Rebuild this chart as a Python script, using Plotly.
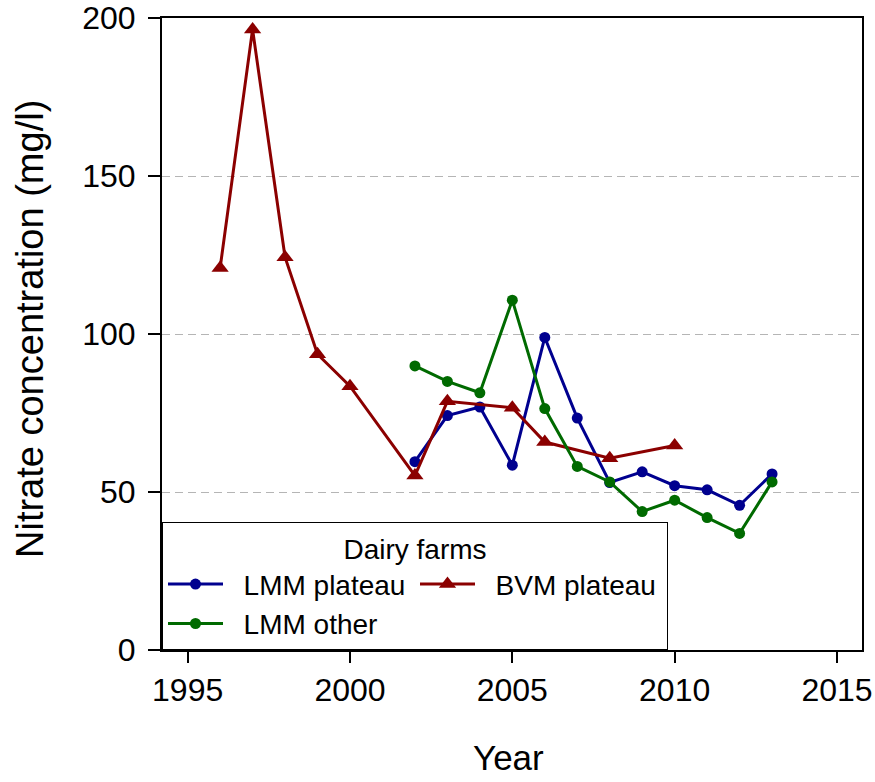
import plotly.graph_objects as go

# Data
lmm_plateau_years = [2002, 2003, 2004, 2005, 2006, 2007, 2008, 2009, 2010, 2011, 2012, 2013]
lmm_plateau_values = [59.6, 74.2, 76.9, 58.5, 98.9, 73.4, 53.0, 56.4, 52.0, 50.7, 45.8, 55.7]

lmm_other_years = [2002, 2003, 2004, 2005, 2006, 2007, 2008, 2009, 2010, 2011, 2012, 2013]
lmm_other_values = [89.9, 85.0, 81.4, 110.7, 76.4, 58.1, 53.2, 43.8, 47.4, 41.9, 36.9, 53.2]

bvm_plateau_years = [1996, 1997, 1998, 1999, 2000, 2002, 2003, 2005, 2006, 2008, 2010]
bvm_plateau_values = [120.9, 196.4, 124.3, 93.6, 83.5, 55.2, 78.7, 76.7, 65.8, 60.7, 64.7]

x_ticks = [1995, 2000, 2005, 2010, 2015]
y_ticks = [0, 50, 100, 150, 200]

FONT = "Liberation Sans, Arial, sans-serif"
BLUE = "#00008f"
GREEN = "#006a00"
RED = "#8b0000"
NB = "\u00a0\u00a0"

W, H = 875, 782
L, R, T, B = 162, 13, 18, 132
PW = W - L - R
PH = H - T - B

fig = go.Figure()
fig.add_trace(go.Scatter(
    x=lmm_plateau_years, y=lmm_plateau_values, name=NB + "LMM plateau",
    mode="lines+markers", line=dict(color=BLUE, width=3),
    marker=dict(symbol="circle", size=11, color=BLUE), legendrank=1))
fig.add_trace(go.Scatter(
    x=bvm_plateau_years, y=bvm_plateau_values, name=NB + "BVM plateau",
    mode="lines+markers", line=dict(color=RED, width=3),
    marker=dict(symbol="triangle-up", size=15, color=RED), legendrank=2))
fig.add_trace(go.Scatter(
    x=lmm_other_years, y=lmm_other_values, name=NB + "LMM other",
    mode="lines+markers", line=dict(color=GREEN, width=3),
    marker=dict(symbol="circle", size=11, color=GREEN), legendrank=3))

fig.update_layout(
    width=W, height=H,
    margin=dict(l=L, r=R, t=T, b=B, autoexpand=False),
    paper_bgcolor="white", plot_bgcolor="white",
    font=dict(family=FONT, color="black"),
    showlegend=True,
    legend=dict(
        x=0, y=0, xanchor="left", yanchor="bottom",
        orientation="h", entrywidth=182, itemwidth=55,
        bgcolor="white", bordercolor="black", borderwidth=1,
        font=dict(size=28, family=FONT, color="black"),
        title=dict(text="Dairy farms", side="top center",
                   font=dict(size=28, family=FONT, color="black")),
        traceorder="normal",
    ),
    xaxis=dict(
        range=[1994.21, 2015.77], tickvals=x_ticks,
        ticktext=[str(v) for v in x_ticks],
        showgrid=False, zeroline=False, automargin=False,
        showline=True, linecolor="black", linewidth=2, mirror=True,
        ticks="outside", ticklen=11, tickwidth=1.5, tickcolor="black",
        tickfont=dict(size=32, family=FONT, color="black"),
        ticklabeloverflow="allow",
    ),
    yaxis=dict(
        range=[0, 200], tickvals=y_ticks,
        ticktext=[str(v) for v in y_ticks],
        showgrid=True, gridcolor="#b5b5b5", griddash="8px,5px", gridwidth=1,
        zeroline=False, automargin=False,
        showline=True, linecolor="black", linewidth=2, mirror=True,
        ticks="outside", ticklen=12, tickwidth=1.5, tickcolor="black",
        tickfont=dict(size=32, family=FONT, color="black"),
        ticklabelstandoff=6, ticklabeloverflow="allow",
    ),
    annotations=[
        dict(text="Nitrate concentration (mg/l)", xref="paper", yref="paper",
             x=(30 - L) / PW, y=(H - B - 329) / PH,
             xanchor="center", yanchor="middle",
             textangle=-90, showarrow=False,
             font=dict(size=38, family=FONT, color="black")),
        dict(text="Year", xref="paper", yref="paper",
             x=(508 - L) / PW, y=(H - B - 757) / PH,
             xanchor="center", yanchor="middle",
             showarrow=False, borderpad=0,
             font=dict(size=35, family=FONT, color="black")),
    ],
)

fig.write_html(
    "out.html",
    config={"displayModeBar": False},
    post_script="document.body.style.margin='0';document.body.style.overflow='hidden';",
)
